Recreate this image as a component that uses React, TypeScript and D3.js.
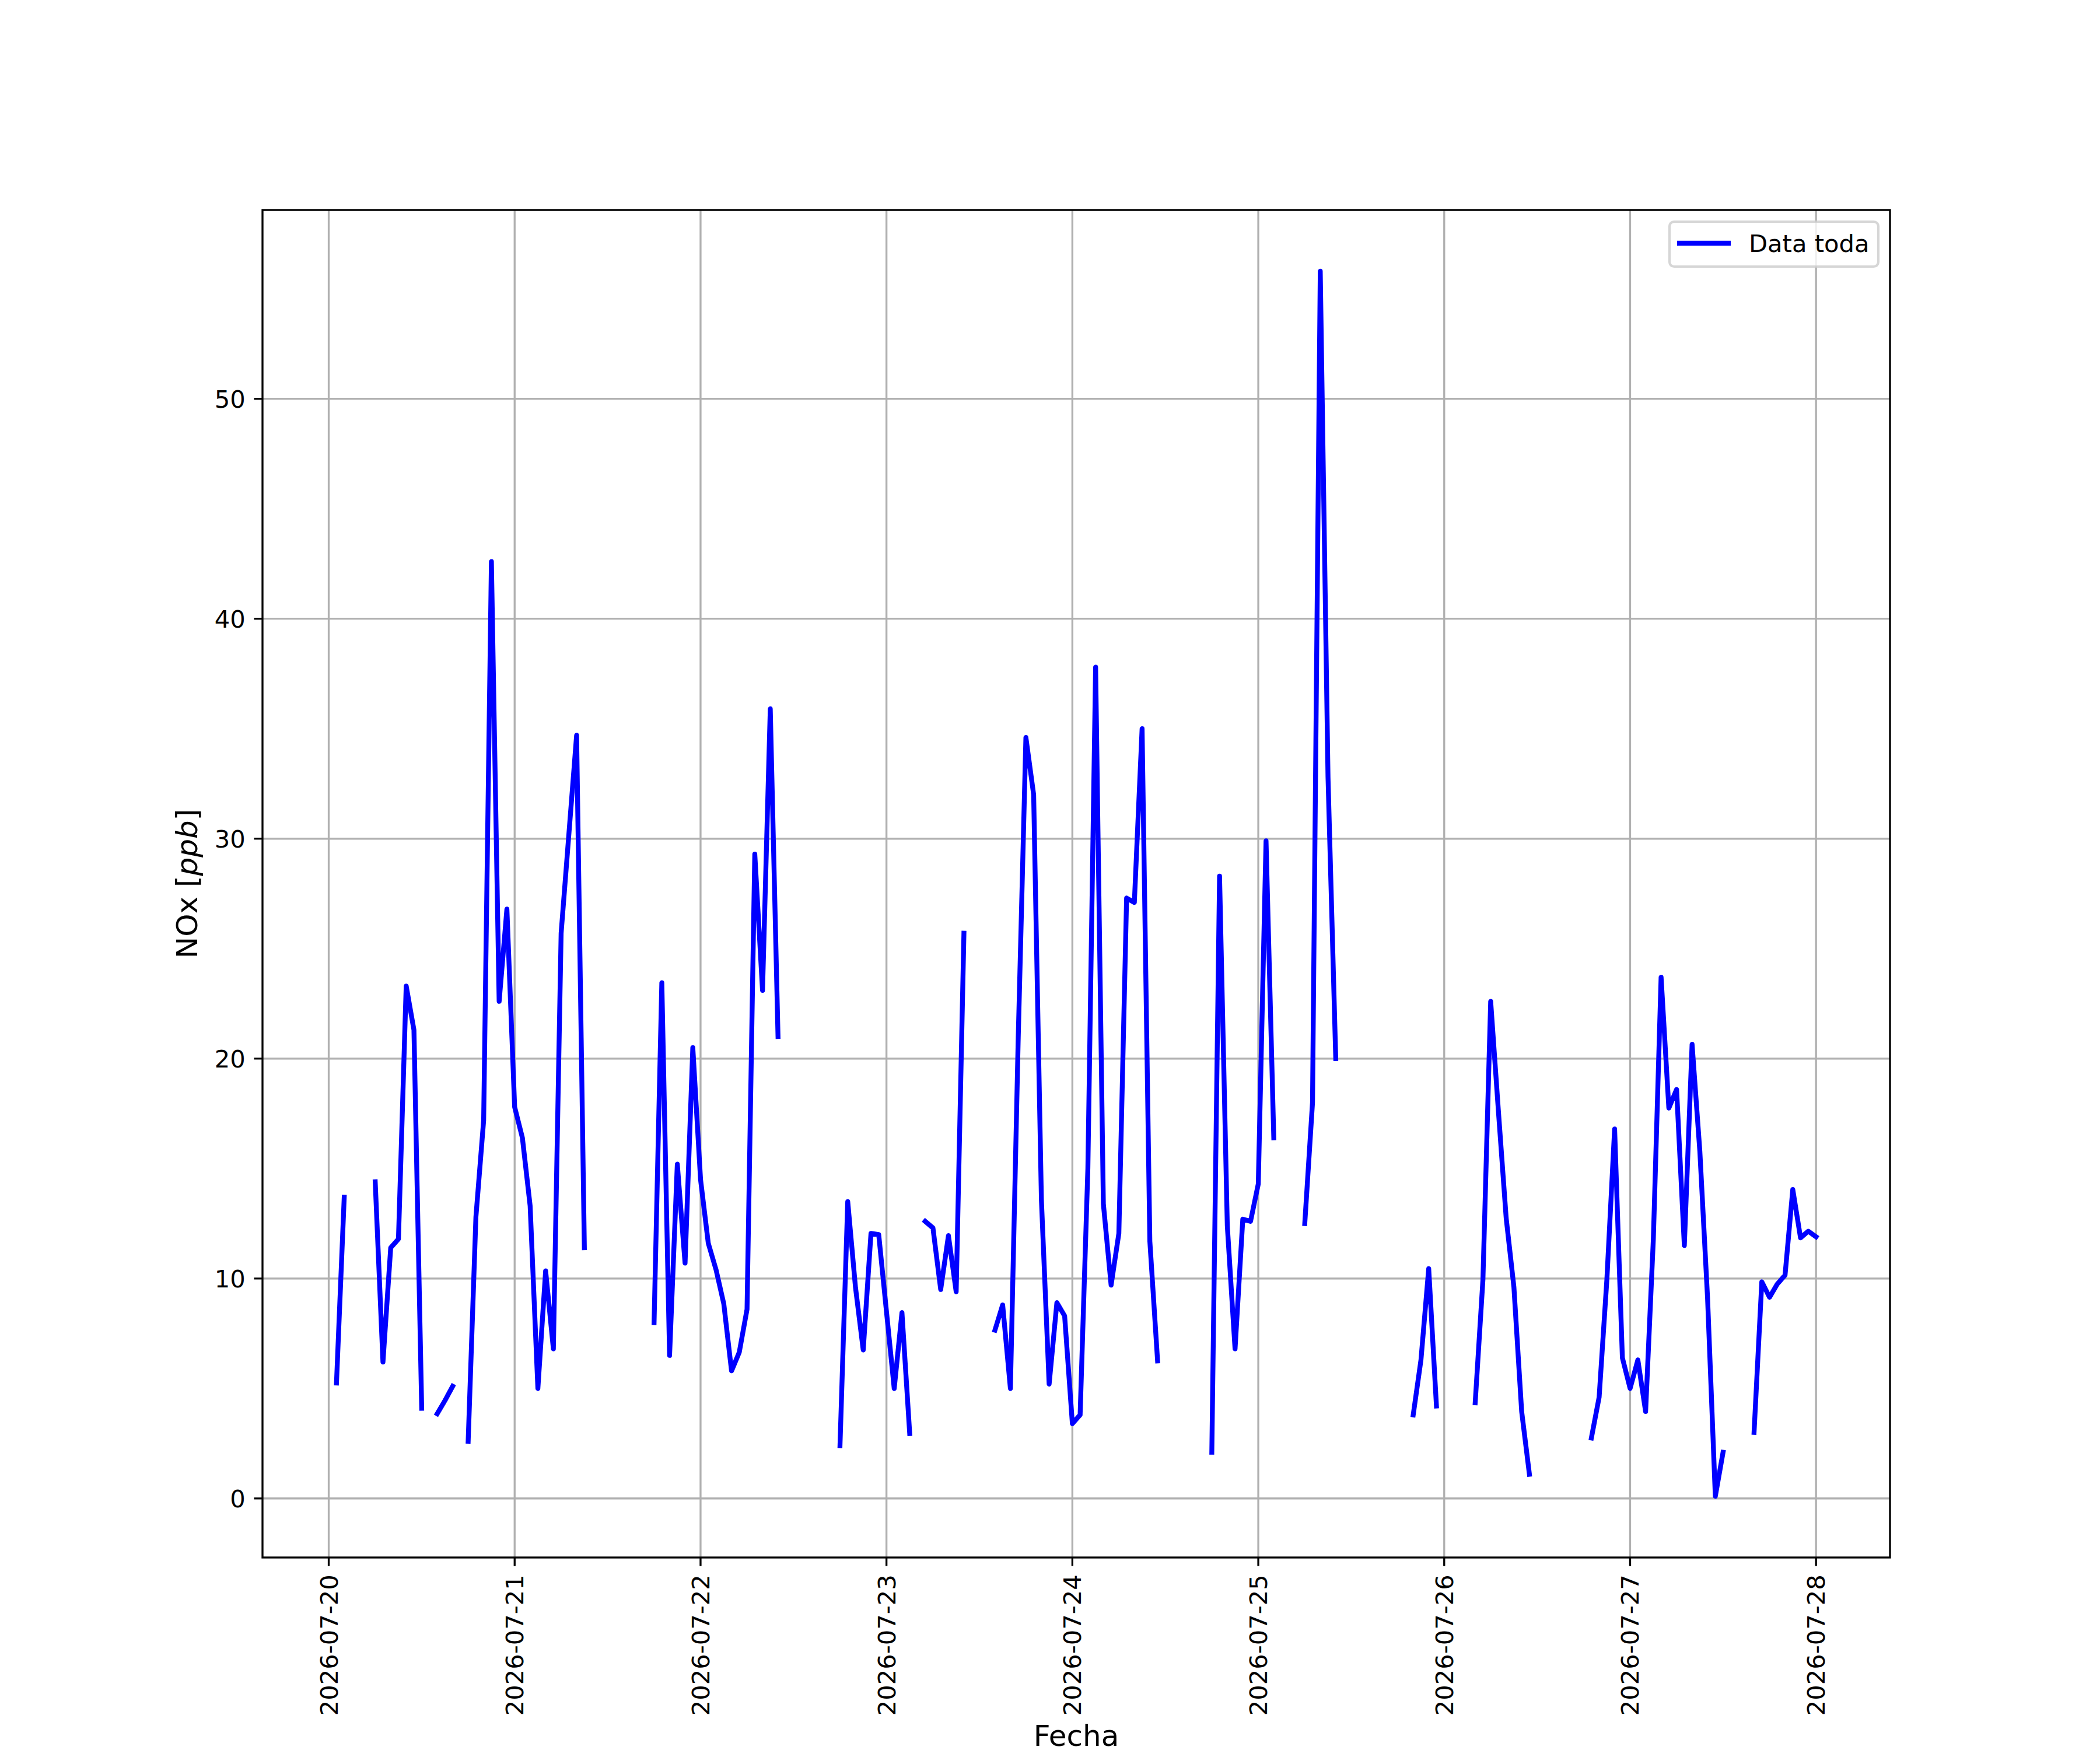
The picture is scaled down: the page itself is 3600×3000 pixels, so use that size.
import React, { useEffect } from "react";
import * as d3 from "d3";

// ---- Data (hourly NOx readings from 2026-07-20 00:00, null = missing) ----
const START_ISO = "2026-07-20T00:00:00Z";
const noxValues: (number | null)[] = [
  null, 5.25, 13.7, null, null, null, 14.4, 6.2, 11.4, 11.8, 23.3, 21.3, 4.1, null, 3.85, 4.45, 5.1, null, 2.6, 12.8, 17.2, 42.6, 22.6, 26.8,
  17.8, 16.4, 13.3, 5.0, 10.35, 6.8, 25.7, 30.2, 34.7, 11.4, null, null, null, null, null, null, null, null, 8.0, 23.45, 6.5, 15.2, 10.7, 20.5,
  14.5, 11.6, 10.4, 8.85, 5.8, 6.65, 8.6, 29.3, 23.1, 35.9, 21.0, null, null, null, null, null, null, null, 2.4, 13.5, 9.6, 6.75, 12.05, 12.0,
  8.5, 5.0, 8.45, 2.95, null, 12.6, 12.3, 9.5, 11.95, 9.4, 25.7, null, null, null, 7.65, 8.8, 5.0, 20.8, 34.6, 32.0, 13.6, 5.2, 8.9, 8.3,
  3.4, 3.8, 15.0, 37.8, 13.4, 9.7, 12.05, 27.3, 27.1, 35.0, 11.7, 6.25, null, null, null, null, null, null, 2.1, 28.3, 12.4, 6.8, 12.7, 12.6,
  14.3, 29.9, 16.4, null, null, null, 12.5, 18.0, 55.8, 32.8, 20.0, null, null, null, null, null, null, null, null, null, 3.8, 6.3, 10.45, 4.2,
  null, null, null, null, 4.35, 9.95, 22.6, 17.6, 12.75, 9.6, 3.95, 1.1, null, null, null, null, null, null, null, 2.75, 4.6, 9.95, 16.8, 6.4,
  5.0, 6.3, 3.95, 11.8, 23.7, 17.75, 18.6, 11.5, 20.65, 15.8, 9.1, 0.1, 2.1, null, null, null, 3.0, 9.85, 9.15, 9.75, 10.15, 14.05, 11.85, 12.15,
  11.9,
];
const xTickDates = [
  "2026-07-20", "2026-07-21", "2026-07-22", "2026-07-23", "2026-07-24",
  "2026-07-25", "2026-07-26", "2026-07-27", "2026-07-28",
];
const yTicks = [0, 10, 20, 30, 40, 50];
const seriesLabel = "Data toda";
const xLabel = "Fecha";

const W = 3600;
const H = 3000;
const PT = 300 / 72;
const L = 450, R = 3240, T = 360, B = 2670;
const FONT = "'DejaVu Sans', sans-serif";
const TICK_FS = 10 * PT;
const LABEL_FS = 12 * PT;

type P = { t: Date; v: number | null };

export default function App() {
  useEffect(() => {
    document.body.style.margin = "0";
  }, []);

  const start = new Date(START_ISO).getTime();
  const pts: P[] = noxValues.map((v, i) => ({ t: new Date(start + i * 3600e3), v }));
  const valid = pts.filter((p) => p.v != null);
  const t0 = d3.min(valid, (p) => p.t.getTime())!;
  const t1 = d3.max(valid, (p) => p.t.getTime())!;
  const tm = (t1 - t0) * 0.05;
  const v0 = d3.min(valid, (p) => p.v as number)!;
  const v1 = d3.max(valid, (p) => p.v as number)!;
  const vm = (v1 - v0) * 0.05;

  const x = d3.scaleUtc().domain([new Date(t0 - tm), new Date(t1 + tm)]).range([L, R]);
  const y = d3.scaleLinear().domain([v0 - vm, v1 + vm]).range([B, T]);

  const line = d3
    .line<P>()
    .defined((d) => d.v != null)
    .x((d) => x(d.t))
    .y((d) => y(d.v as number));

  const xTicks = xTickDates.map((s) => ({ s, d: new Date(s + "T00:00:00Z") }));
  const sw = 0.8 * PT;
  const tickLen = 3.5 * PT;
  const pad = 3.5 * PT;

  return (
    <svg width={W} height={H} viewBox={`0 0 ${W} ${H}`} style={{ display: "block", background: "#fff" }}>
      <rect x={0} y={0} width={W} height={H} fill="#ffffff" />
      {/* grid */}
      <g stroke="#b0b0b0" strokeWidth={sw}>
        {xTicks.map((t) => (
          <line key={t.s} x1={x(t.d)} x2={x(t.d)} y1={T} y2={B} />
        ))}
        {yTicks.map((v) => (
          <line key={v} x1={L} x2={R} y1={y(v)} y2={y(v)} />
        ))}
      </g>
      {/* data line */}
      <defs>
        <clipPath id="plotclip">
          <rect x={L} y={T} width={R - L} height={B - T} />
        </clipPath>
      </defs>
      <path
        d={line(pts) || ""}
        fill="none"
        stroke="#0000ff"
        strokeWidth={2 * PT}
        strokeLinejoin="round"
        strokeLinecap="square"
        clipPath="url(#plotclip)"
      />
      {/* spines */}
      <rect x={L} y={T} width={R - L} height={B - T} fill="none" stroke="#000" strokeWidth={sw} />
      {/* y ticks */}
      <g fontFamily={FONT} fontSize={TICK_FS} fill="#000">
        {yTicks.map((v) => (
          <g key={v}>
            <line x1={L - tickLen} x2={L} y1={y(v)} y2={y(v)} stroke="#000" strokeWidth={sw} />
            <text x={L - tickLen - pad} y={y(v)} dy="0.36em" textAnchor="end">
              {v}
            </text>
          </g>
        ))}
        {xTicks.map((t) => (
          <g key={t.s}>
            <line x1={x(t.d)} x2={x(t.d)} y1={B} y2={B + tickLen} stroke="#000" strokeWidth={sw} />
            <text
              transform={`translate(${x(t.d)},${B + tickLen + pad}) rotate(-90)`}
              dy="0.36em"
              textAnchor="end"
            >
              {t.s}
            </text>
          </g>
        ))}
      </g>
      {/* axis labels */}
      <text x={(L + R) / 2} y={2993} textAnchor="middle" fontFamily={FONT} fontSize={LABEL_FS} fill="#000">
        {xLabel}
      </text>
      <text
        transform={`translate(338,${(T + B) / 2}) rotate(-90)`}
        textAnchor="middle"
        fontFamily={FONT}
        fontSize={LABEL_FS}
        fill="#000"
      >
        NOx [<tspan fontStyle="italic">ppb</tspan>]
      </text>
      {/* legend */}
      <g>
        <rect
          x={2862}
          y={380}
          width={358}
          height={77}
          rx={8}
          ry={8}
          fill="#ffffff"
          fillOpacity={0.8}
          stroke="#cccccc"
          strokeOpacity={0.8}
          strokeWidth={1 * PT}
        />
        <line x1={2875} x2={2967} y1={417} y2={417} stroke="#0000ff" strokeWidth={2 * PT} strokeLinecap="butt" />
        <text x={2998} y={432} fontFamily={FONT} fontSize={TICK_FS} fill="#000">
          {seriesLabel}
        </text>
      </g>
    </svg>
  );
}
